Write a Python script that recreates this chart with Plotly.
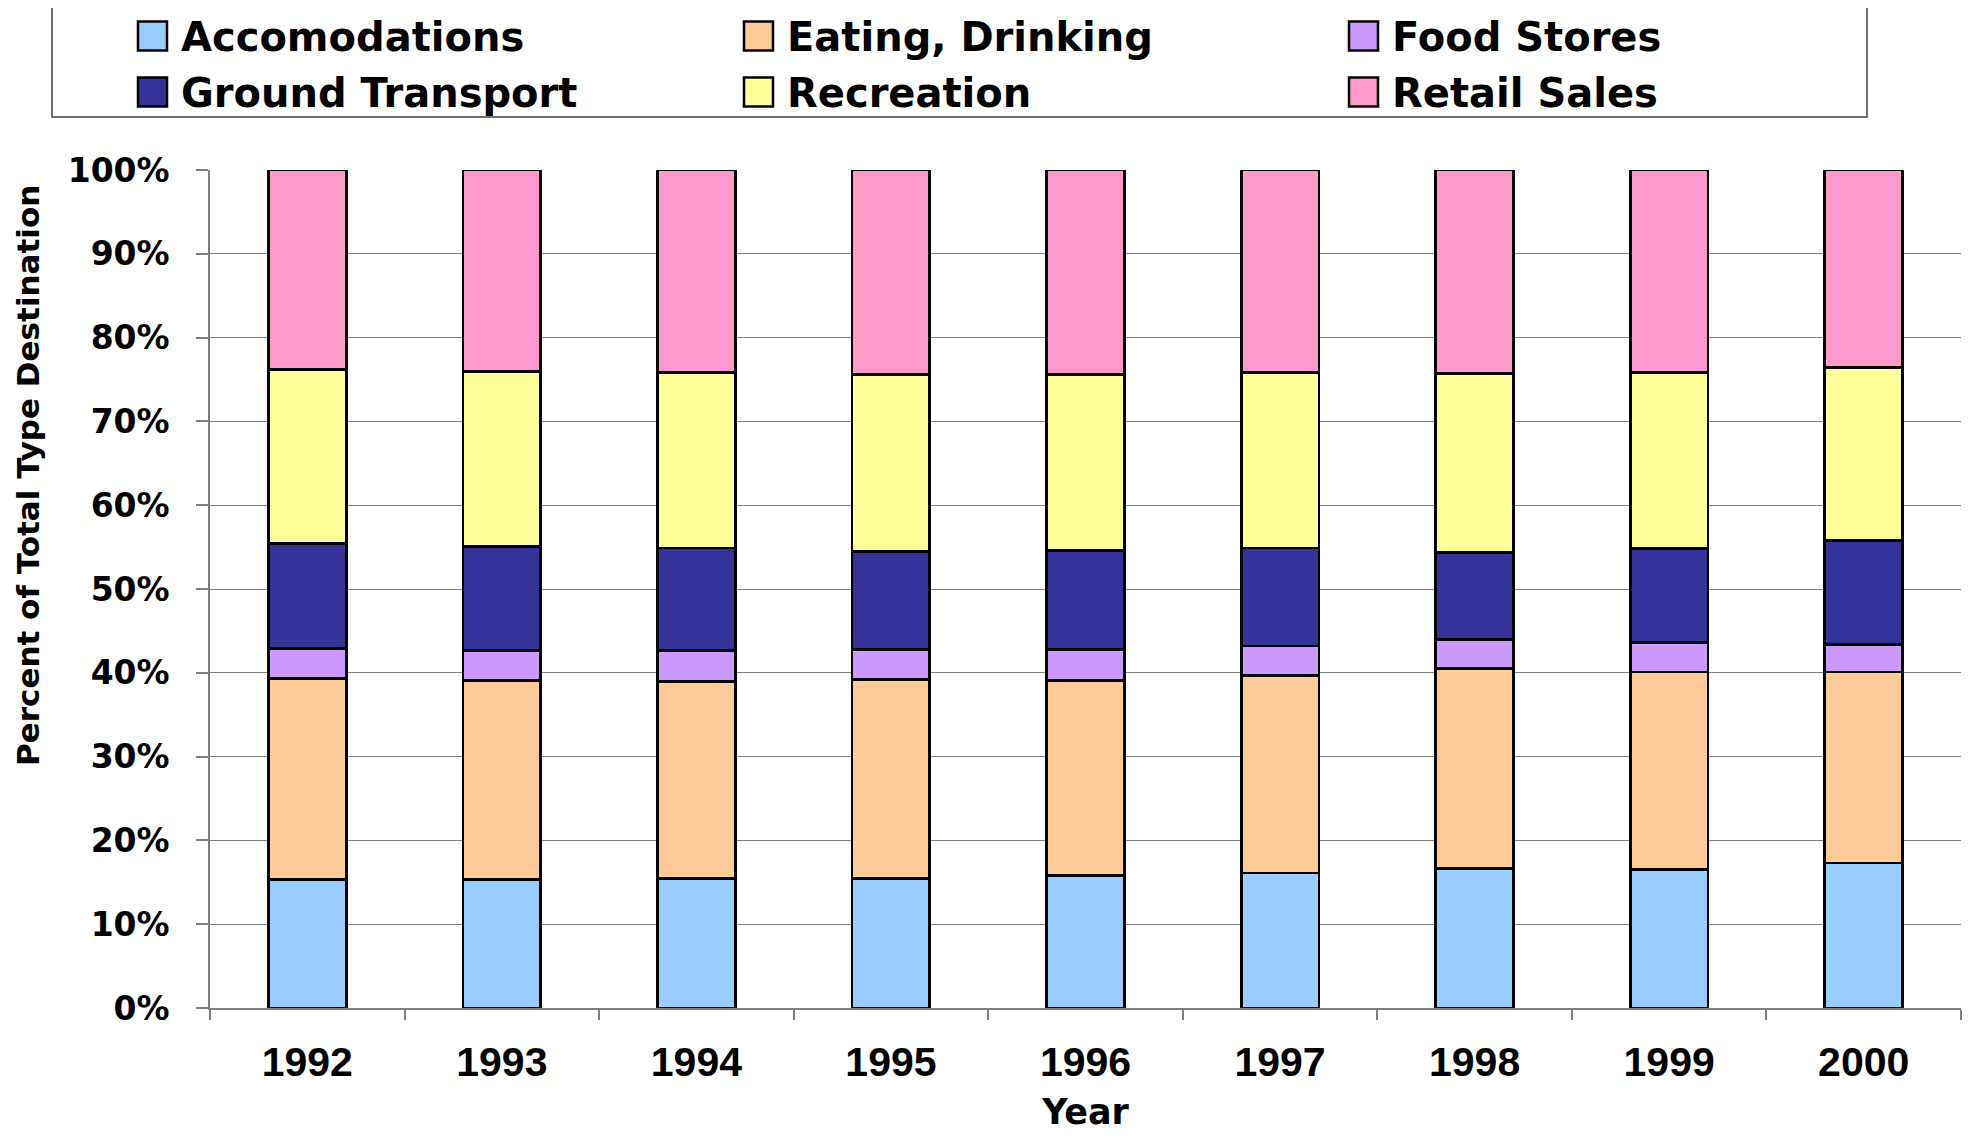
import plotly.graph_objects as go

# ---- data ----
years = ["1992", "1993", "1994", "1995", "1996", "1997", "1998", "1999", "2000"]
series_names = ["Accomodations", "Eating, Drinking", "Food Stores",
                "Ground Transport", "Recreation", "Retail Sales"]
accomodations = [15.3, 15.3, 15.5, 15.5, 15.8, 16.1, 16.6, 16.5, 17.3]
eating_drinking = [24.0, 23.8, 23.5, 23.7, 23.3, 23.6, 23.9, 23.6, 22.8]
food_stores = [3.6, 3.6, 3.7, 3.6, 3.7, 3.5, 3.5, 3.5, 3.3]
ground_transport = [12.5, 12.4, 12.2, 11.7, 11.8, 11.7, 10.4, 11.2, 12.4]
recreation = [20.8, 20.9, 20.9, 21.1, 21.0, 20.9, 21.3, 21.0, 20.6]
retail_sales = [23.8, 24.0, 24.2, 24.4, 24.4, 24.2, 24.3, 24.2, 23.6]
y_tick_values = [0, 10, 20, 30, 40, 50, 60, 70, 80, 90, 100]
y_tick_labels = ["0%", "10%", "20%", "30%", "40%", "50%", "60%", "70%", "80%", "90%", "100%"]
x_title = "Year"
y_title = "Percent of Total Type Destination"

series_values = [accomodations, eating_drinking, food_stores,
                 ground_transport, recreation, retail_sales]
colors = ["#99CCFF", "#FFCC99", "#CC99FF", "#333399", "#FFFF99", "#FF99CC"]

# ---- layout geometry (pixels); page has an 8px body margin ----
OFF = 8
W, H = 1955, 1124
ML, MR, MT, MB = 202, 2, 162, 124
PW, PH = W - ML - MR, H - MT - MB


def px_x(p):
    """page x pixel -> paper coordinate"""
    return (p - OFF - ML) / PW


def px_y(p):
    """page y pixel -> paper coordinate"""
    return (H - MB - (p - OFF)) / PH


WIDE = "DejaVu Sans"
ARIAL = "Liberation Sans, Arial"

fig = go.Figure()
for name, vals, col in zip(series_names, series_values, colors):
    fig.add_trace(go.Bar(
        x=years, y=vals, name=name, width=0.4,
        marker=dict(color=col, line=dict(color="black", width=2.8)),
        showlegend=False,
    ))

# ---- manual legend (large swatches like the original) ----
shapes = [dict(type="rect", xref="paper", yref="paper",
               x0=px_x(52), x1=px_x(1867), y0=px_y(117), y1=px_y(6),
               line=dict(color="#404040", width=1.5), fillcolor="white", layer="above")]
annotations = []
col_swatch_x = [138, 744, 1349]
row_y = [36, 92]
sw = 29
for i, (name, col) in enumerate(zip(series_names, colors)):
    r, c = divmod(i, 3)
    sx, cy = col_swatch_x[c], row_y[r]
    shapes.append(dict(type="rect", xref="paper", yref="paper",
                       x0=px_x(sx), x1=px_x(sx + sw), y0=px_y(cy + sw / 2), y1=px_y(cy - sw / 2),
                       line=dict(color="black", width=2.5), fillcolor=col, layer="above"))
    annotations.append(dict(xref="paper", yref="paper", x=px_x(sx + sw + 12), y=px_y(cy + 1),
                            xanchor="left", yanchor="middle", showarrow=False, text=name,
                            font=dict(family=WIDE, size=40, color="black", weight="bold")))

# y-axis title (placed slightly above centre, as in the original)
annotations.append(dict(xref="paper", yref="paper", x=px_x(28), y=px_y(476),
                        xanchor="center", yanchor="middle", showarrow=False, textangle=-90,
                        text=y_title,
                        font=dict(family=WIDE, size=31, color="black", weight="bold")))

fig.update_layout(
    width=W, height=H,
    margin=dict(l=ML, r=MR, t=MT, b=MB, autoexpand=False),
    paper_bgcolor="white", plot_bgcolor="white",
    barmode="stack", bargap=0.6,
    shapes=shapes, annotations=annotations,
    showlegend=False,
    xaxis=dict(
        type="category", tickson="boundaries", ticks="outside", ticklen=10,
        tickcolor="#808080", tickwidth=1.5,
        showline=True, linecolor="#808080", linewidth=1.5, showgrid=False,
        tickfont=dict(family=ARIAL, size=41, color="black", weight="bold"),
        ticklabelstandoff=17,
        title=dict(text=x_title, standoff=40,
                   font=dict(family=WIDE, size=35, color="black", weight="bold")),
    ),
    yaxis=dict(
        range=[0, 100], tickvals=y_tick_values, ticktext=y_tick_labels,
        ticks="outside", ticklen=12, tickcolor="#808080", tickwidth=1.5,
        showline=True, linecolor="#808080", linewidth=1.5,
        showgrid=True, gridcolor="#808080", gridwidth=1.2, zeroline=False,
        tickfont=dict(family=WIDE, size=33, color="black", weight="bold"),
        ticklabelstandoff=20,
    ),
)

fig.write_html("out.html")
